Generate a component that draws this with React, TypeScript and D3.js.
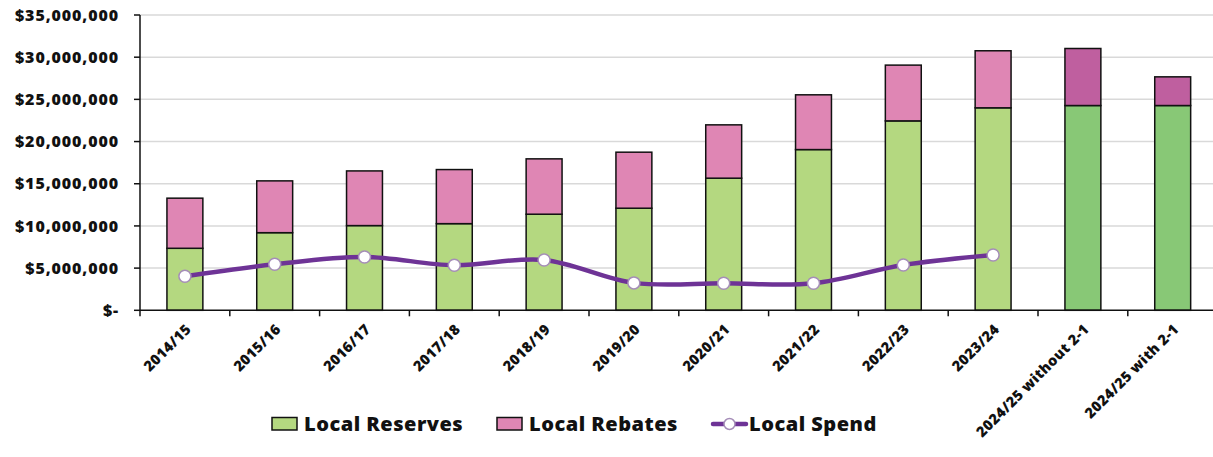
import React from "react";
import * as d3 from "d3";

const categories = [
  "2014/15", "2015/16", "2016/17", "2017/18", "2018/19", "2019/20",
  "2020/21", "2021/22", "2022/23", "2023/24", "2024/25 without 2-1", "2024/25 with 2-1",
];
const reserves = [7.35, 9.2, 10.04, 10.27, 11.39, 12.1, 15.66, 19.05, 22.45, 24.0, 24.27, 24.27].map((v) => v * 1e6);
const rebates = [5.94, 6.14, 6.48, 6.41, 6.56, 6.64, 6.32, 6.49, 6.61, 6.76, 6.76, 3.4].map((v) => v * 1e6);
const spend: (number | null)[] = [4.03, 5.46, 6.32, 5.34, 5.97, 3.25, 3.2, 3.2, 5.37, 6.56, null, null].map((v) => (v == null ? null : v * 1e6));
const highlighted = [false, false, false, false, false, false, false, false, false, false, true, true];
const yTicks = [0, 5e6, 10e6, 15e6, 20e6, 25e6, 30e6, 35e6];
const yTickLabels = ["$-", "$5,000,000", "$10,000,000", "$15,000,000", "$20,000,000", "$25,000,000", "$30,000,000", "$35,000,000"];
const legendItems = ["Local Reserves", "Local Rebates", "Local Spend"];

const W = 1213, H = 457;
const left = 140, right = 1217.6, top = 15, bottom = 310.3;
const FONT = "'Open Sans', 'DejaVu Sans', sans-serif";

const C = {
  green: "#B4D880",
  pink: "#DF86B4",
  green2: "#88C876",
  pink2: "#BF5F9F",
  line: "#6E3396",
  grid: "#D9D9D9",
};

export default function App() {
  const x = d3.scaleBand<string>().domain(categories).range([left, right]).paddingInner(0.6).paddingOuter(0.3);
  const y = d3.scaleLinear().domain([0, 35e6]).range([bottom, top]);
  const step = x.step();
  const bw = x.bandwidth();
  const cx = (c: string) => (x(c) as number) + bw / 2;

  const pts = categories
    .map((c, i) => ({ c, v: spend[i] }))
    .filter((d) => d.v != null) as { c: string; v: number }[];
  const lineGen = d3
    .line<{ c: string; v: number }>()
    .x((d) => cx(d.c))
    .y((d) => y(d.v))
    .curve(d3.curveCatmullRom.alpha(0));

  const boundaries = d3.range(categories.length + 1).map((i) => left + i * step);

  return (
    <svg width={W} height={H} style={{ position: "absolute", left: 0, top: 0, background: "#fff" }} fontFamily={FONT}>
      {yTicks.slice(1).map((t) => (
        <line key={t} x1={left} x2={W} y1={y(t)} y2={y(t)} stroke={C.grid} strokeWidth={1.5} />
      ))}
      {categories.map((c, i) => {
        const x0 = x(c) as number;
        const r = reserves[i];
        const b = rebates[i];
        return (
          <g key={c} stroke="#111" strokeWidth={1.5}>
            <rect x={x0} width={bw} y={y(r)} height={y(0) - y(r)} fill={highlighted[i] ? C.green2 : C.green} />
            <rect x={x0} width={bw} y={y(r + b)} height={y(r) - y(r + b)} fill={highlighted[i] ? C.pink2 : C.pink} />
          </g>
        );
      })}
      <line x1={left} x2={left} y1={top} y2={bottom} stroke="#111" strokeWidth={1.5} />
      <line x1={left} x2={W} y1={bottom} y2={bottom} stroke="#111" strokeWidth={1.5} />
      {yTicks.map((t, i) => (
        <g key={t}>
          <line x1={left - 6} x2={left} y1={y(t)} y2={y(t)} stroke="#111" strokeWidth={1.5} />
          <text x={119} y={y(t)} dy="0.35em" textAnchor="end" fontSize={16} fontWeight={800} letterSpacing={0.9} fill="#111">
            {yTickLabels[i]}
          </text>
        </g>
      ))}
      {boundaries.map((bx, i) => (
        <line key={i} x1={bx} x2={bx} y1={bottom} y2={bottom + 6} stroke="#111" strokeWidth={1.5} />
      ))}
      {categories.map((c) => (
        <text
          key={c}
          transform={`translate(${cx(c) + 7},${bottom + 20}) rotate(-45)`}
          textAnchor="end"
          fontSize={14.5}
          fontWeight={800}
          letterSpacing={0.3}
          fill="#111"
        >
          {c}
        </text>
      ))}
      <path d={lineGen(pts) || ""} fill="none" stroke={C.line} strokeWidth={4.5} strokeLinecap="round" />
      {pts.map((d) => (
        <circle key={d.c} cx={cx(d.c)} cy={y(d.v)} r={6} fill="#fff" stroke="#A58DB8" strokeWidth={1.5} />
      ))}
      <g fontSize={20} fontWeight={800} fill="#111" letterSpacing={0.5}>
        <rect x={272} y={417.5} width={25} height={12.5} fill={C.green} stroke="#111" strokeWidth={1.5} />
        <text x={304} y={431}>{legendItems[0]}</text>
        <rect x={497} y={417.5} width={25} height={12.5} fill={C.pink} stroke="#111" strokeWidth={1.5} />
        <text x={529} y={431}>{legendItems[1]}</text>
        <line x1={713} x2={746} y1={424} y2={424} stroke={C.line} strokeWidth={4.5} strokeLinecap="round" />
        <circle cx={729.5} cy={424} r={5.5} fill="#fff" stroke="#A58DB8" strokeWidth={1.5} />
        <text x={749} y={431}>{legendItems[2]}</text>
      </g>
    </svg>
  );
}
